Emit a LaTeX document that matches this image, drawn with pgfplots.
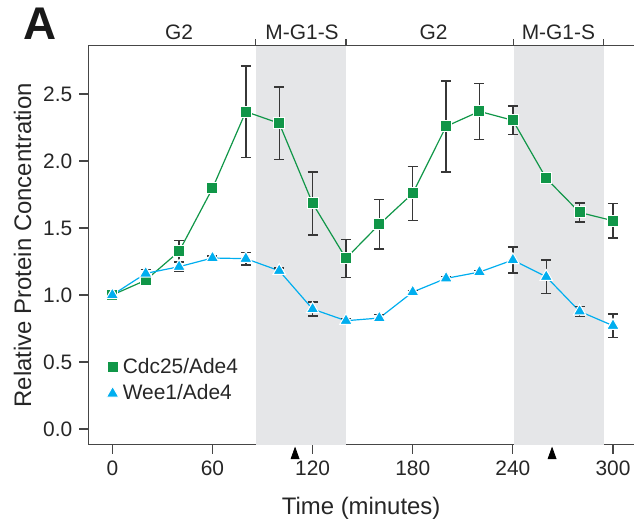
\documentclass[border=0pt]{standalone}
\usepackage{pgfplots}
\pgfplotsset{compat=1.18}
\usepackage{fontspec}
\setmainfont{Liberation Sans}
\definecolor{cdcgreen}{RGB}{16,150,72}
\definecolor{weecyan}{RGB}{0,174,239}
\definecolor{phasegray}{RGB}{229,230,232}
\definecolor{ebar}{RGB}{55,55,55}
\definecolor{axiscol}{RGB}{70,70,70}
\pgfplotstableread{
t y e
0 1.000 0
20 1.110 0
40 1.325 0.08
60 1.795 0
80 2.368 0.34
100 2.281 0.272
120 1.684 0.235
140 1.273 0.141
160 1.527 0.185
180 1.758 0.20
200 2.258 0.34
220 2.370 0.21
240 2.303 0.106
260 1.870 0
280 1.616 0.07
300 1.554 0.128
}\cdctable
\pgfplotstableread{
t y e
0 1.000 0
20 1.161 0.03
40 1.211 0.035
60 1.276 0.015
80 1.271 0.046
100 1.181 0.02
120 0.895 0.052
140 0.808 0.015
160 0.828 0.025
180 1.022 0.012
200 1.124 0.012
220 1.171 0.012
240 1.261 0.097
260 1.136 0.125
280 0.878 0.038
300 0.771 0.088
}\weetable
\begin{document}
\begin{tikzpicture}
\begin{axis}[
  scale only axis, width=272.85bp, height=199.5bp,
  xmin=-14.4, xmax=312.6, ymin=-0.117, ymax=2.86,
  axis x line*=bottom, axis y line*=left,
  axis line style={axiscol, line width=0.6bp},
  xtick={0,60,120,180,240,300}, ytick={0,0.5,1,1.5,2,2.5},
  tick align=outside, major tick length=4.5bp,
  tick style={axiscol, line width=0.6bp},
  /pgf/number format/assume math mode=true,
  yticklabel style={/pgf/number format/.cd, fixed, fixed zerofill, precision=1},
  ticklabel style={font=\fontsize{10.5}{12}\selectfont, text=black!85},
  xlabel={Time (minutes)}, ylabel={Relative Protein Concentration},
  label style={font=\fontsize{12}{14}\selectfont, text=black!85},
  xlabel style={at={(axis description cs:0.5,-0.175)}, anchor=base},
  ylabel style={at={(axis description cs:-0.105,0.5)}, anchor=base},
  clip=false,
  legend style={draw=none, fill=none, at={(axis cs:-3.8,0.56)}, anchor=north west,
    inner sep=0pt, font=\fontsize{10.5}{12.25}\selectfont, text=black!85,
    nodes={inner xsep=2bp}},
  legend cell align=left,
]
\fill[phasegray] (axis cs:86,-0.117) rectangle (axis cs:140,2.86);
\fill[phasegray] (axis cs:240.5,-0.117) rectangle (axis cs:294.5,2.86);
\draw[axiscol, line width=0.6bp] (rel axis cs:0,1) -- (rel axis cs:1,1);
\draw[axiscol, line width=0.6bp] (axis cs:86,2.86) -- ([yshift=3.5bp]axis cs:86,2.86);
\draw[axiscol, line width=0.6bp] (axis cs:140,2.86) -- ([yshift=3.5bp]axis cs:140,2.86);
\draw[axiscol, line width=0.6bp] (axis cs:240.5,2.86) -- ([yshift=3.5bp]axis cs:240.5,2.86);
\draw[axiscol, line width=0.6bp] (axis cs:294.5,2.86) -- ([yshift=3.5bp]axis cs:294.5,2.86);
\node[anchor=base, font=\fontsize{10.5}{12}\selectfont, text=black!85] at ([yshift=2.9bp]axis cs:40,2.86) {G2};
\node[anchor=base, font=\fontsize{10.5}{12}\selectfont, text=black!85] at ([yshift=2.9bp]axis cs:113.7,2.86) {M-G1-S};
\node[anchor=base, font=\fontsize{10.5}{12}\selectfont, text=black!85] at ([yshift=2.9bp]axis cs:192.5,2.86) {G2};
\node[anchor=base, font=\fontsize{10.5}{12}\selectfont, text=black!85] at ([yshift=2.9bp]axis cs:267.3,2.86) {M-G1-S};
\node[anchor=base west, inner sep=0pt, font=\bfseries\fontsize{23}{23}\selectfont, text=black!90] at ([xshift=-32.8bp,yshift=2.85bp]rel axis cs:0,1) {A};
\coordinate (bl) at (rel axis cs:0,0);
\coordinate (tr) at (rel axis cs:1,1);

\addplot[forget plot, cdcgreen, line width=0.6bp, mark=square*, mark size=2.75bp,
  mark options={fill=cdcgreen, draw=white, line width=0.5bp},
  error bars/.cd, y dir=both, y explicit,
  error bar style={ebar, line width=0.7bp},
  error mark options={rotate=90, ebar, mark size=2.5bp, line width=0.7bp}]
  table[x=t, y=y, y error=e] {\cdctable};
\addplot[forget plot, weecyan, line width=0.6bp, mark=triangle*, mark size=3.6bp,
  mark options={fill=weecyan, draw=white, line width=0.5bp},
  error bars/.cd, y dir=both, y explicit,
  error bar style={ebar, line width=0.7bp},
  error mark options={rotate=90, ebar, mark size=2.5bp, line width=0.7bp}]
  table[x=t, y=y, y error=e] {\weetable};
\addplot[only marks, forget plot, mark=triangle*, mark size=2.31bp,
  mark options={black, fill=black, yscale=1.6}]
  coordinates {(109.5,-0.195) (263.5,-0.195)};

\addlegendimage{only marks, mark=square*, mark size=2.75bp, mark options={fill=cdcgreen, draw=white, line width=0.5bp}}
\addlegendentry{Cdc25/Ade4}
\addlegendimage{only marks, mark=triangle*, mark size=3.6bp, mark options={fill=weecyan, draw=white, line width=0.5bp}}
\addlegendentry{Wee1/Ade4}
\end{axis}
\pgfresetboundingbox
\path[use as bounding box] ([xshift=-44.15bp,yshift=-40bp]bl) rectangle ([xshift=1.5bp,yshift=22.85bp]tr);
\end{tikzpicture}
\end{document}
